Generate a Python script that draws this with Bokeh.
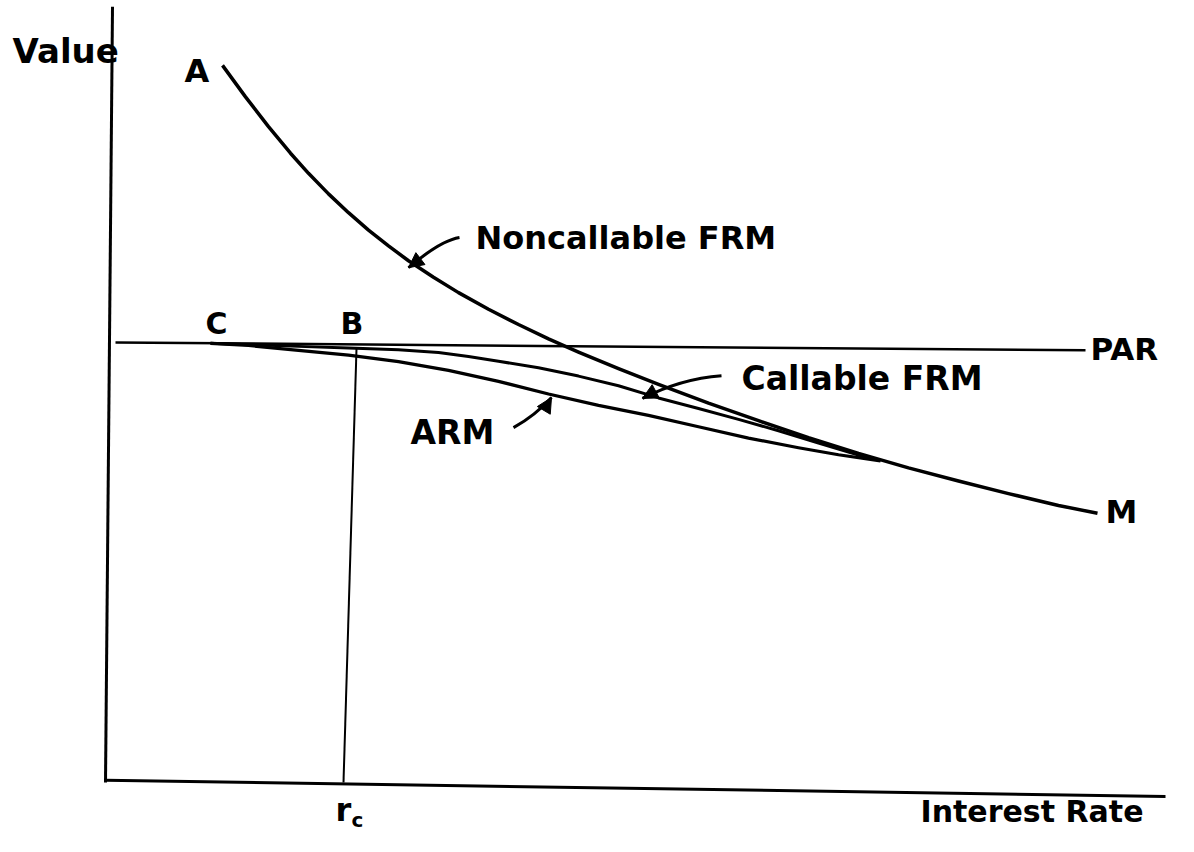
from bokeh.plotting import figure
from bokeh.models import Range1d, Arrow, NormalHead
from bokeh.core.properties import value
from bokeh.embed import file_html
from bokeh.resources import INLINE

# ---- data (interest rate in %, value with PAR = 100) ----
noncall_r = [1.14, 1.37, 1.60, 1.82, 2.0, 2.2, 2.4, 2.6, 2.8, 3.0, 3.25, 3.5, 3.8, 4.1, 4.4,
             4.7, 5.1, 5.5, 6.0, 6.5, 7.0, 7.5, 8.0, 8.5, 9.0, 9.5, 9.89]
noncall_v = [164.1, 156.9, 150.1, 144.0, 139.4, 134.7, 130.4, 126.4, 122.8, 119.4, 115.6, 112.1,
             108.3, 104.8, 101.5, 98.5, 94.7, 91.1, 86.8, 82.8, 78.9, 75.3, 72.0, 69.0, 66.1,
             63.4, 61.6]

call_r = [1.02, 1.4, 1.9, 2.4, 2.9, 3.3, 3.6, 3.9, 4.3, 4.7, 5.1, 5.5, 5.9, 6.3, 6.7, 7.1, 7.5, 7.72]
call_v = [100.5, 100.2, 99.8, 99.4, 99.0, 98.4, 97.5, 96.4, 94.9, 93.0, 90.8, 88.0, 85.6, 83.1,
          80.5, 77.7, 74.9, 73.7]

arm_r = [1.02, 1.4, 1.9, 2.4, 2.9, 3.4, 3.9, 4.4, 4.9, 5.4, 5.9, 6.4, 6.9, 7.3, 7.72]
arm_v = [100.5, 100.0, 98.9, 97.8, 96.3, 94.3, 91.8, 88.9, 86.3, 84.0, 81.4, 78.8, 76.6, 75.0, 73.6]

par_r = [0.07, 9.77]
par_v = [100.7, 98.9]

rc_r = [2.48, 2.35]
rc_v = [99.3, 0.0]

yaxis_r = [0.04, -0.03]
yaxis_v = [177.5, 0.0]
xaxis_r = [-0.03, 10.57]
xaxis_v = [0.5, -3.2]

FONT = value("DejaVu Sans")

p = figure(width=1178, height=836, output_backend="svg", toolbar_location=None,
           x_range=Range1d(-1.08, 10.70), y_range=Range1d(-12.36, 178.95),
           x_axis_location=None, y_axis_location=None, min_border=0)
p.outline_line_color = None
p.xgrid.visible = False
p.ygrid.visible = False
p.background_fill_color = "white"

# axes
p.line(yaxis_r, yaxis_v, line_color="black", line_width=3)
p.line(xaxis_r, xaxis_v, line_color="black", line_width=3)
# PAR and r_c lines
p.line(par_r, par_v, line_color="black", line_width=2.5)
p.line(rc_r, rc_v, line_color="black", line_width=2)

# curves
p.line(noncall_r, noncall_v, line_color="black", line_width=3.5, line_join="round")
p.line(call_r, call_v, line_color="black", line_width=3, line_join="round")
p.line(arm_r, arm_v, line_color="black", line_width=3.2, line_join="round")

# pointer arrows (curved shafts + heads)
arr_x0 = [3.51, 6.13, 4.05]
arr_y0 = [124.7, 93.1, 81.2]
arr_cx = [3.32, 5.72, 4.27]
arr_cy = [124.0, 92.4, 84.0]
arr_x1 = [3.00, 5.34, 4.43]
arr_y1 = [117.8, 87.9, 88.1]
arr_hx = [3.12, 5.47, 4.37]
arr_hy = [119.9, 89.5, 85.8]
p.quadratic(x0=arr_x0, y0=arr_y0, x1=arr_x1, y1=arr_y1, cx=arr_cx, cy=arr_cy,
            line_color="black", line_width=3)
for hx, hy, tx, ty in zip(arr_hx, arr_hy, arr_x1, arr_y1):
    p.add_layout(Arrow(end=NormalHead(size=15, fill_color="black", line_color="black"),
                       x_start=hx, y_start=hy, x_end=tx, y_end=ty,
                       line_color="black", line_width=3))

# text labels
lab_text = ["Value", "A", "C", "B", "Noncallable FRM", "PAR", "Callable FRM", "ARM", "M",
            "r", "Interest Rate"]
lab_x = [-0.96, 0.76, 0.97, 2.32, 3.67, 9.82, 6.33, 3.02, 9.97, 2.27, 8.12]
lab_y = [167.5, 162.9, 105.0, 105.0, 124.5, 99.3, 92.4, 80.1, 61.8, -6.2, -6.6]
lab_size = ["34px", "32px", "30px", "30px", "32px", "31px", "33px", "33px", "32px", "32px", "30px"]
for t, x, y, s in zip(lab_text, lab_x, lab_y, lab_size):
    p.text(x=[x], y=[y], text=[t], text_font=FONT, text_font_size=s, text_font_style="bold",
           text_align="left", text_baseline="middle", text_color="black")
# subscript c of r_c
p.text(x=[2.43], y=[-8.6], text=["c"], text_font=FONT, text_font_size="20px",
       text_align="left", text_baseline="middle", text_color="black", text_font_style="bold")

open("out.html", "w").write(file_html(p, INLINE))
